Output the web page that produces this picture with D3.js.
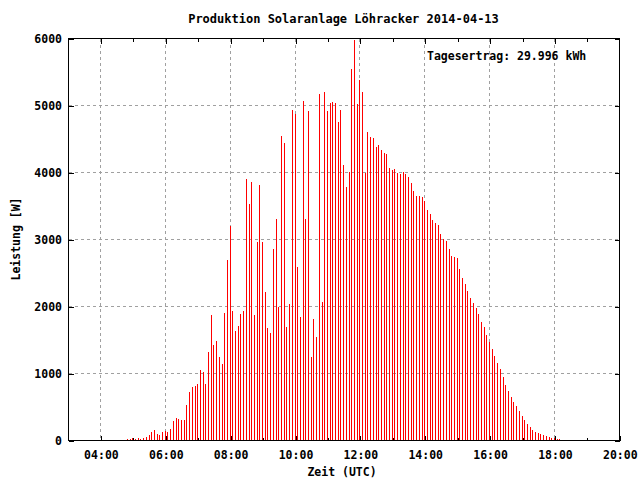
<!DOCTYPE html>
<html><head><meta charset="utf-8">
<script src="https://cdn.jsdelivr.net/npm/d3@7"></script>
<style>
body{margin:0;background:#fff}
text{font-family:"DejaVu Sans Mono",monospace;font-weight:bold;fill:#000}
</style>
</head><body><svg id="c" width="640" height="480"></svg>
<script>
const title = "Produktion Solaranlage Löhracker 2014-04-13";
const summary = "Tagesertrag: 29.996 kWh";
const xLabel = "Zeit (UTC)";
const yLabel = "Leistung [W]";

const times = [
"04:50","04:55",
"05:00","05:05","05:10","05:15","05:20","05:25","05:30","05:35","05:40","05:45","05:50","05:55",
"06:00","06:05","06:10","06:15","06:20","06:25","06:30","06:35","06:40","06:45","06:50","06:55",
"07:00","07:05","07:10","07:15","07:20","07:25","07:30","07:35","07:40","07:45","07:50","07:55",
"08:00","08:05","08:10","08:15","08:20","08:25","08:30","08:35","08:40","08:45","08:50","08:55",
"09:00","09:05","09:10","09:15","09:20","09:25","09:30","09:35","09:40","09:45","09:50","09:55",
"10:00","10:05","10:10","10:15","10:20","10:25","10:30","10:35","10:40","10:45","10:50","10:55",
"11:00","11:05","11:10","11:15","11:20","11:25","11:30","11:35","11:40","11:45","11:50","11:55",
"12:00","12:05","12:10","12:15","12:20","12:25","12:30","12:35","12:40","12:45","12:50","12:55",
"13:00","13:05","13:10","13:15","13:20","13:25","13:30","13:35","13:40","13:45","13:50","13:55",
"14:00","14:05","14:10","14:15","14:20","14:25","14:30","14:35","14:40","14:45","14:50","14:55",
"15:00","15:05","15:10","15:15","15:20","15:25","15:30","15:35","15:40","15:45","15:50","15:55",
"16:00","16:05","16:10","16:15","16:20","16:25","16:30","16:35","16:40","16:45","16:50","16:55",
"17:00","17:05","17:10","17:15","17:20","17:25","17:30","17:35","17:40","17:45","17:50","17:55",
"18:00","18:05","18:10"
];

const power = [
20,20,
30,20,35,20,35,55,80,125,155,95,80,125,
140,125,170,290,335,320,305,305,530,725,800,815,
840,1050,1020,840,1320,1880,1420,1480,1245,1140,1900,2690,
3200,1930,1640,1705,1885,1930,3900,3525,3855,1870,2960,3810,
2960,2215,1675,1600,2855,3305,1990,4540,4440,1690,2035,4930,
4870,2585,1840,5065,3305,4915,1245,1810,1540,5170,2065,5200,
4915,5035,5050,5035,4750,4930,4110,3780,4005,5540,5975,5020,
5380,5200,3990,4600,4525,4510,4380,4410,4335,4290,4275,4065,
4035,4050,3990,3975,4005,3975,3930,3840,3720,3645,3645,3630,
3570,3440,3380,3290,3245,3215,3080,3005,2975,2855,2750,2735,
2720,2555,2425,2335,2230,2125,2050,1975,1885,1765,1690,1570,
1470,1365,1260,1155,1065,945,825,735,645,570,510,440,
365,305,245,200,155,125,110,95,80,65,50,35,
30,20,20
];

const xTickLabels = ["04:00","06:00","08:00","10:00","12:00","14:00","16:00","18:00","20:00"];
const xMinorTickLabels = ["05:00","07:00","09:00","11:00","13:00","15:00","17:00","19:00"];
const yTickValues = [0,1000,2000,3000,4000,5000,6000];

function toHours(s){ const p = s.split(":").map(Number); return p[0] + p[1]/60; }

const L = 68.5, R = 619.5, T = 38.5, B = 440.5;
const svg = d3.select("#c");
svg.append("rect").attr("width",640).attr("height",480).attr("fill","#fff");

const x = d3.scaleLinear().domain([3,20]).range([68,619.3]);
const y = d3.scaleLinear().domain([0,6000]).range([B,T]);

const majorX = xTickLabels.map(toHours);
const minorX = xMinorTickLabels.map(toHours);
const fmtX = h => xTickLabels[majorX.indexOf(h)];

// grid
const gridX = majorX.filter(h => h < 20);
svg.append("g").selectAll("line").data(gridX).join("line")
  .attr("x1", d => Math.floor(x(d)) + 0.5).attr("x2", d => Math.floor(x(d)) + 0.5)
  .attr("y1", T).attr("y2", B)
  .attr("stroke","#a0a0a0").attr("stroke-dasharray","3,3").attr("shape-rendering","crispEdges");
svg.append("g").selectAll("line").data(yTickValues.filter(v => v > 0 && v < 6000)).join("line")
  .attr("x1", L).attr("x2", R)
  .attr("y1", d => Math.round(y(d)-0.5)+0.5).attr("y2", d => Math.round(y(d)-0.5)+0.5)
  .attr("stroke","#a0a0a0").attr("stroke-dasharray","3,3").attr("shape-rendering","crispEdges");

// bars (impulses)
svg.append("g").selectAll("rect").data(times.map((t,i) => ({t: toHours(t), v: power[i]}))).join("rect")
  .attr("x", d => Math.floor(x(d.t)))
  .attr("width", 1)
  .attr("y", d => Math.round(y(d.v)))
  .attr("height", d => 440 - Math.round(y(d.v)))
  .attr("fill", "#ff0000")
  .attr("shape-rendering","crispEdges");

// axes
function styleAxis(g){
  g.select(".domain").remove();
  g.selectAll("line").attr("stroke","#000").attr("shape-rendering","crispEdges");
  g.selectAll("text").attr("font-family","DejaVu Sans Mono").attr("font-weight","bold").attr("font-size","11.5px").attr("fill","#000");
}
const xb = svg.append("g").attr("transform",`translate(0.5,${B})`)
  .call(d3.axisBottom(x).tickValues(majorX).tickFormat(fmtX).tickSize(-5).tickPadding(0));
styleAxis(xb);
xb.selectAll("text").attr("y",18.5).attr("dy","0");
xb.selectAll(".tick line").attr("transform", d => `translate(${Math.floor(x(d)) - x(d)},0)`);

const xbm = svg.append("g").attr("transform",`translate(0.5,${B})`)
  .call(d3.axisBottom(x).tickValues(minorX).tickFormat("").tickSize(-3));
styleAxis(xbm);
xbm.selectAll(".tick line").attr("transform", d => `translate(${Math.floor(x(d)) - x(d)},0)`);

const xt = svg.append("g").attr("transform",`translate(0.5,${T})`)
  .call(d3.axisTop(x).tickValues(majorX.filter(h=>h<20)).tickFormat("").tickSize(-5));
styleAxis(xt);
xt.selectAll(".tick line").attr("transform", d => `translate(${Math.floor(x(d)) - x(d)},0)`);
const xtm = svg.append("g").attr("transform",`translate(0.5,${T})`)
  .call(d3.axisTop(x).tickValues(minorX).tickFormat("").tickSize(-3));
styleAxis(xtm);
xtm.selectAll(".tick line").attr("transform", d => `translate(${Math.floor(x(d)) - x(d)},0)`);

const yl = svg.append("g").attr("transform",`translate(${L},0)`)
  .call(d3.axisLeft(y).tickValues(yTickValues).tickFormat(d3.format("d")).tickSize(-5).tickPadding(6.5));
styleAxis(yl);
yl.selectAll("text").attr("x",-6.5).attr("dy","0.36em");
const yr = svg.append("g").attr("transform",`translate(${R},0)`)
  .call(d3.axisRight(y).tickValues(yTickValues).tickFormat("").tickSize(-5));
styleAxis(yr);

// border
svg.append("rect").attr("x",L).attr("y",T).attr("width",R-L).attr("height",B-T)
  .attr("fill","none").attr("stroke","#000").attr("stroke-width",1).attr("shape-rendering","crispEdges");

// texts
svg.append("text").attr("x",343.5).attr("y",23).attr("text-anchor","middle")
  .attr("font-size","12px").text(title);
svg.append("text").attr("x",427).attr("y",59.5).attr("text-anchor","start")
  .attr("font-size","11.5px").text(summary);
svg.append("text").attr("x",342).attr("y",476).attr("text-anchor","middle")
  .attr("font-size","11.5px").text(xLabel);
svg.append("text").attr("transform","translate(19.5,239) rotate(-90)").attr("text-anchor","middle")
  .attr("font-size","11.5px").text(yLabel);
</script>
</body></html>
